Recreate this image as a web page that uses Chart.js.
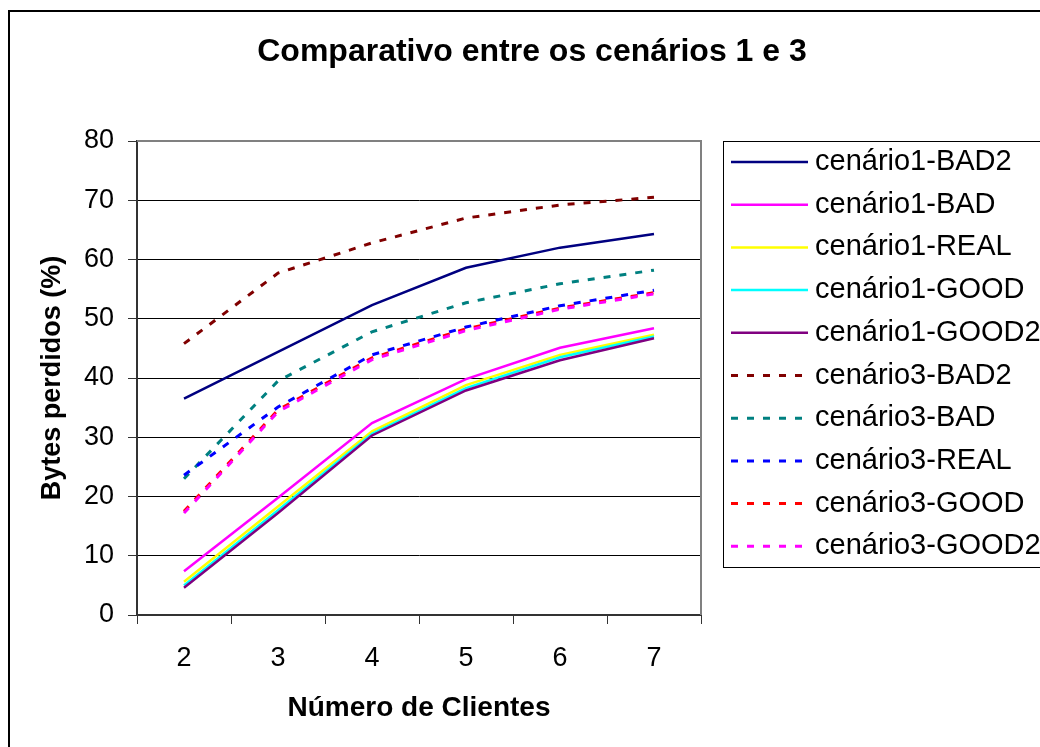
<!DOCTYPE html>
<html lang="pt">
<head>
<meta charset="UTF-8">
<title>Comparativo entre os cenários 1 e 3</title>
<script src="https://cdn.jsdelivr.net/npm/chart.js"></script>
<style>
    body { margin: 0; background: #fff; }
    canvas { display: block; }
</style>
</head>
<body>
<canvas id="grafico" width="1040" height="747"></canvas>

<script>
    // valores
    const clientes = ['2', '3', '4', '5', '6', '7'];

    const c1Bad2  = [36.5, 44.4, 52.3, 58.6, 62.0, 64.3];
    const c1Bad   = [7.4, 19.8, 32.4, 39.8, 45.1, 48.4];
    const c1Real  = [5.6, 18.3, 31.0, 38.8, 43.9, 47.3];
    const c1Good  = [5.0, 17.7, 30.6, 38.3, 43.5, 47.0];
    const c1Good2 = [4.6, 17.2, 30.3, 37.9, 43.0, 46.7];
    const c3Bad2  = [45.8, 57.7, 62.8, 67.0, 69.2, 70.5];
    const c3Bad   = [23.0, 39.5, 47.8, 52.7, 55.9, 58.2];
    const c3Real  = [23.6, 35.1, 43.9, 48.6, 52.2, 54.8];
    const c3Good  = [17.5, 34.6, 43.4, 48.3, 51.8, 54.4];
    const c3Good2 = [17.2, 34.3, 43.1, 48.0, 51.6, 54.2];

    const nomes = [
        'cenário1-BAD2', 'cenário1-BAD', 'cenário1-REAL', 'cenário1-GOOD', 'cenário1-GOOD2',
        'cenário3-BAD2', 'cenário3-BAD', 'cenário3-REAL', 'cenário3-GOOD', 'cenário3-GOOD2'
    ];
    const series = [c1Bad2, c1Bad, c1Real, c1Good, c1Good2, c3Bad2, c3Bad, c3Real, c3Good, c3Good2];
    const cores = ['#000080', '#FF00FF', '#FFFF00', '#00FFFF', '#800080',
                   '#800000', '#008080', '#0000FF', '#FF0000', '#FF00FF'];

    const fonte = "'Liberation Sans', Arial, sans-serif";
    const tracejado = [7, 9];

    const datasets = series.map(function (valores, i) {
        return {
            label: nomes[i],
            data: valores,
            borderColor: cores[i],
            backgroundColor: cores[i],
            borderWidth: i < 5 ? 2.5 : 3,
            borderDash: i < 5 ? [] : tracejado,
            pointRadius: 0,
            tension: 0,
            order: 10 - i
        };
    });

    // moldura, titulo, borda do grafico e legenda
    const extras = {
        id: 'extras',
        beforeDraw(chart) {
            const ctx = chart.ctx;
            ctx.save();
            ctx.fillStyle = '#fff';
            ctx.fillRect(0, 0, chart.width, chart.height);
            ctx.strokeStyle = '#000';
            ctx.lineWidth = 2;
            ctx.strokeRect(9, 11, 1200, 1000);
            ctx.restore();
        },
        afterDraw(chart) {
            const ctx = chart.ctx;
            const area = chart.chartArea;
            ctx.save();

            ctx.fillStyle = '#000';
            ctx.font = 'bold 32px ' + fonte;
            ctx.textAlign = 'center';
            ctx.textBaseline = 'middle';
            ctx.fillText('Comparativo entre os cenários 1 e 3', 532, 52);

            // borda cinza (topo e direita)
            ctx.strokeStyle = '#808080';
            ctx.lineWidth = 2;
            ctx.beginPath();
            ctx.moveTo(area.left, area.top);
            ctx.lineTo(area.right, area.top);
            ctx.lineTo(area.right, area.bottom);
            ctx.stroke();

            // legenda
            ctx.strokeStyle = '#000';
            ctx.lineWidth = 1;
            ctx.strokeRect(723.5, 141.5, 400, 426);
            ctx.font = '29px ' + fonte;
            ctx.textAlign = 'left';
            chart.data.datasets.forEach(function (ds, i) {
                const y = 162 + i * 42.7;
                ctx.strokeStyle = ds.borderColor;
                ctx.lineWidth = ds.borderWidth;
                ctx.setLineDash(ds.borderDash);
                ctx.beginPath();
                ctx.moveTo(731, y);
                ctx.lineTo(808, y);
                ctx.stroke();
                ctx.setLineDash([]);
                ctx.fillStyle = '#000';
                ctx.fillText(ds.label, 815, y);
            });
            ctx.restore();
        }
    };

    const config = {
        type: 'line',
        data: { labels: clientes, datasets: datasets },
        options: {
            responsive: false,
            animation: false,
            devicePixelRatio: 1,
            layout: { padding: { left: 0, top: 141, right: 339, bottom: 0 } },
            plugins: {
                legend: { display: false },
                title: { display: false },
                tooltip: { enabled: false }
            },
            scales: {
                x: {
                    offset: true,
                    afterFit(scale) { scale.height = 132; },
                    grid: { drawOnChartArea: false, tickLength: 9, tickColor: '#333', offset: true },
                    border: { color: '#333', width: 2 },
                    ticks: { color: '#000', padding: 18, font: { family: fonte, size: 27 } },
                    title: {
                        display: true,
                        text: 'Número de Clientes',
                        color: '#000',
                        font: { family: fonte, size: 28, weight: 'bold' },
                        padding: { top: 0, bottom: 22 }
                    }
                },
                y: {
                    min: 0,
                    max: 80,
                    afterFit(scale) { scale.width = 137; },
                    ticks: { stepSize: 10, color: '#000', padding: 14, font: { family: fonte, size: 27 } },
                    grid: {
                        color: function (c) { return c.tick && c.tick.value === 80 ? '#808080' : '#000'; },
                        lineWidth: 1,
                        tickLength: 9,
                        tickColor: '#333'
                    },
                    border: { color: '#333', width: 2 },
                    title: {
                        display: true,
                        text: 'Bytes perdidos (%)',
                        color: '#000',
                        font: { family: fonte, size: 27, weight: 'bold' },
                        padding: { top: 36, bottom: 0 }
                    }
                }
            }
        },
        plugins: [extras]
    };

    const grafico = new Chart(document.getElementById('grafico'), config);
</script>
</body>
</html>
